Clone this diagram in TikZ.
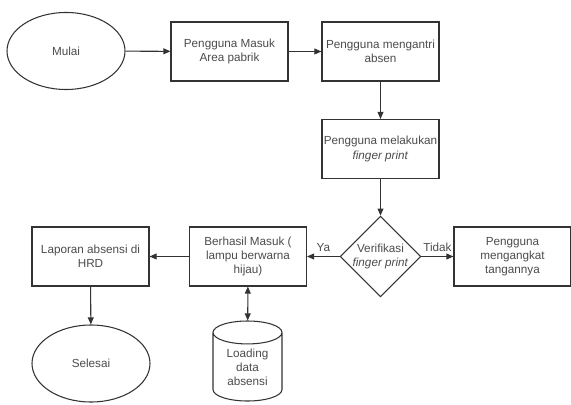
\documentclass[tikz,border=0pt]{standalone}
\usepackage{fontspec}
\setmainfont{Liberation Sans}
\usetikzlibrary{shapes.geometric,arrows.meta}

\begin{document}
\begin{tikzpicture}[x=0.03cm, y=-0.03cm,
		garis/.style={draw=black!80, line width=0.9pt},
		panah/.style={garis, -{Triangle[length=6pt,width=5pt]}},
		proses/.style={garis, fill=white, minimum width=3.51cm, minimum height=1.77cm, inner sep=1pt, align=center, text=black!70},
		terminal/.style={garis, fill=white, ellipse, minimum width=3.54cm, minimum height=2.31cm, inner sep=0pt, align=center, text=black!70},
		keputusan/.style={garis, fill=white, diamond, minimum width=2.31cm, minimum height=2.31cm, inner sep=0pt, align=center, text=black!70},
		basisdata/.style={garis, fill=white, cylinder, shape border rotate=90, aspect=0.55, minimum width=2.07cm, minimum height=2.4cm, inner sep=0pt, align=center, text=black!70}]
			%%%%% START %%%%%
			\useasboundingbox (0, 0) rectangle (571, 405);
			
			\node[terminal] (mulai) at (66, 51) {Mulai};
			\node[proses] (masuk) at (229.5, 51.5) {Pengguna Masuk\\Area pabrik};
			\node[proses] (antri) at (380.5, 51.5) {Pengguna mengantri\\absen};
			\node[proses] (finger) at (380.5, 149) {Pengguna melakukan\\\textit{finger print}};
			\node[keputusan] (verifikasi) at (380.5, 256.5) {Verifikasi\\\textit{finger print}};
			\node[proses] (angkat) at (512.5, 256.5) {Pengguna\\mengangkat\\tangannya};
			\node[proses] (berhasil) at (248, 256.5) {Berhasil Masuk (\\lampu berwarna\\hijau)};
			\node[proses] (laporan) at (90.5, 256.5) {Laporan absensi di\\HRD};
			\node[terminal] (selesai) at (91, 363.5) {Selesai};
			\node[basisdata] (loading) at (247.5, 367) {Loading\\data\\absensi};
			
			\draw[panah] (mulai) -- (masuk);
			\draw[panah] (masuk) -- (antri);
			\draw[panah] (antri) -- (finger);
			\draw[panah] (finger) -- (verifikasi);
			\draw[panah] (verifikasi.west) -- node[above, text=black!70] {Ya} (berhasil);
			\draw[panah] (verifikasi.east) -- node[above, text=black!70] {Tidak} (angkat);
			\draw[panah] (berhasil) -- (laporan);
			\draw[panah] (laporan) -- (selesai);
			\draw[panah, {Triangle[length=6pt,width=5pt]}-{Triangle[length=6pt,width=5pt]}] (berhasil) -- (loading);
			
			%%%%% END %%%%%
		\end{tikzpicture}
\end{document}
